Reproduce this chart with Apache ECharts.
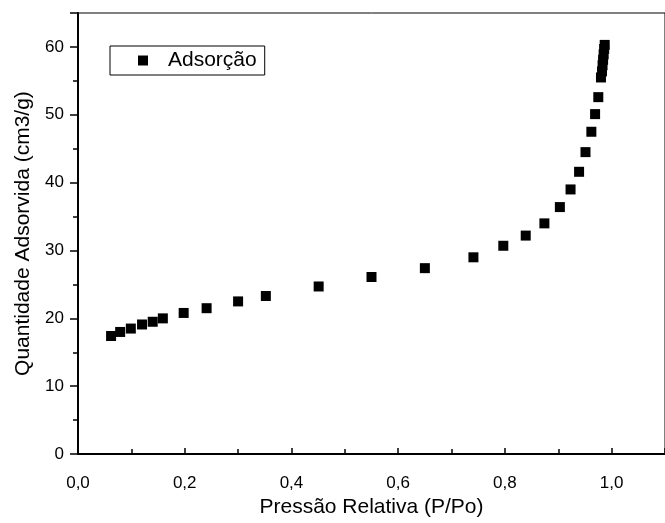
<!DOCTYPE html>
<html>
<head>
<meta charset="utf-8">
<script src="https://cdn.jsdelivr.net/npm/echarts@6/dist/echarts.min.js"></script>
<style>html,body{margin:0;padding:0;background:#fff}#c{width:665px;height:523px}</style>
</head>
<body>
<div id="c"></div>
<script>
const seriesName = 'Adsorção';
const pressure = [0.062,0.079,0.099,0.120,0.140,0.159,0.198,0.241,0.300,0.352,0.451,0.550,0.650,0.741,0.797,0.839,0.874,0.903,0.923,0.939,0.951,0.962,0.969,0.975,0.980,0.982,0.983,0.984,0.985,0.986,0.987];
const adsorbed = [17.4,18.0,18.5,19.1,19.5,20.0,20.8,21.5,22.5,23.3,24.7,26.1,27.4,29.0,30.7,32.2,34.0,36.4,39.0,41.6,44.5,47.5,50.1,52.6,55.5,56.4,57.3,58.1,58.9,59.7,60.3];
const xName = 'Pressão Relativa (P/Po)';
const yName = 'Quantidade Adsorvida (cm3/g)';

const chart = echarts.init(document.getElementById('c'));
const font = 'Liberation Sans, Arial, sans-serif';
chart.setOption({
  animation: false,
  backgroundColor: '#fff',
  grid: {left: 78, top: 13, right: -10, bottom: 65.5, show: true, borderColor: '#000', borderWidth: 1},
  legend: {
    data: [seriesName], left: 110, top: 46, orient: 'vertical',
    borderColor: '#000', borderWidth: 1, padding: [4, 8, 4, 28],
    itemWidth: 10, itemHeight: 10, icon: 'rect',
    textStyle: {fontFamily: font, fontSize: 21, color: '#000', padding: [0, 0, 0, 15]}
  },
  xAxis: {
    type: 'value', min: 0, max: 1.1, interval: 0.2,
    name: xName, nameLocation: 'middle', nameGap: 40,
    nameTextStyle: {fontFamily: font, fontSize: 21, color: '#000'},
    axisLine: {lineStyle: {color: '#000', width: 2}},
    axisTick: {inside: true, length: 6, lineStyle: {color: '#000', width: 1.5}},
    minorTick: {show: true, splitNumber: 2, length: 5, lineStyle: {color: '#000', width: 1.5}},
    splitLine: {show: false},
    axisLabel: {showMaxLabel: false, color: '#000', fontFamily: font, fontSize: 17, margin: 21,
      formatter: v => v.toFixed(1).replace('.', ',')}
  },
  yAxis: {
    type: 'value', min: 0, max: 65, interval: 10,
    name: yName, nameLocation: 'middle', nameGap: 40, nameRotate: 90,
    nameTextStyle: {fontFamily: font, fontSize: 21, color: '#000'},
    axisLine: {lineStyle: {color: '#000', width: 2}},
    axisTick: {length: 8, lineStyle: {color: '#000', width: 1.5}},
    minorTick: {show: true, splitNumber: 2, length: 5, lineStyle: {color: '#000', width: 1.5}},
    splitLine: {show: false},
    axisLabel: {showMaxLabel: false, color: '#000', fontFamily: font, fontSize: 17, margin: 14}
  },
  series: [{
    name: seriesName, type: 'scatter', symbol: 'rect', symbolSize: 10,
    itemStyle: {color: '#000', opacity: 1},
    data: pressure.map((p, i) => [p, adsorbed[i]])
  }]
});
</script>
</body>
</html>
